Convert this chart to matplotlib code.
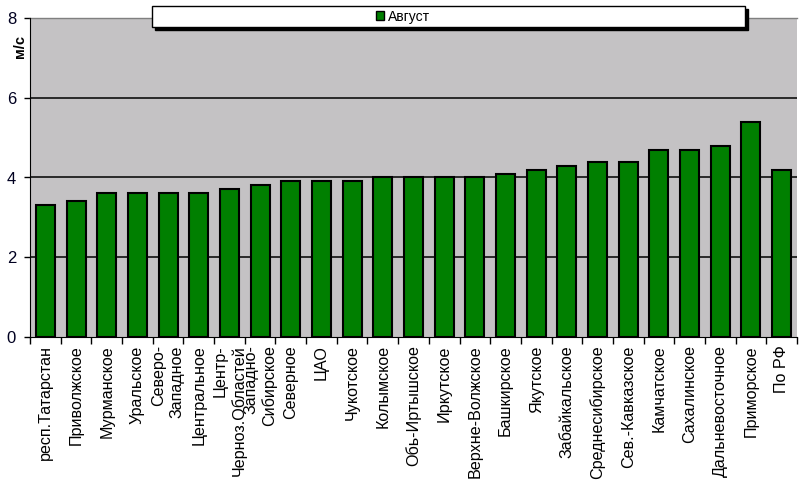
import matplotlib
matplotlib.use("Agg")
import matplotlib.pyplot as plt
from matplotlib.patches import Rectangle, Patch
import numpy as np

plt.rcParams['font.family'] = ['Liberation Sans', 'DejaVu Sans']

categories = ["респ.Татарстан", "Приволжское", "Мурманское", "Уральское",
              "Северо-\nЗападное", "Центральное", "Центр-\nЧерноз.Областей",
              "Западно-\nСибирское", "Северное", "ЦАО", "Чукотское", "Колымское",
              "Обь-Иртышское", "Иркутское", "Верхне-Волжское", "Башкирское",
              "Якутское", "Забайкальское", "Среднесибирское", "Сев.-Кавказское",
              "Камчатское", "Сахалинское", "Дальневосточное", "Приморское", "По РФ"]
august = [3.3, 3.4, 3.6, 3.6, 3.6, 3.6, 3.7, 3.8, 3.9, 3.9, 3.9, 4.0, 4.0, 4.0,
          4.0, 4.1, 4.2, 4.3, 4.4, 4.4, 4.7, 4.7, 4.8, 5.4, 4.2]
series_name = "Август"
y_label = "м/с"
yticks = [0, 2, 4, 6, 8]

W, H = 801, 490
fig = plt.figure(figsize=(W / 100, H / 100), dpi=100)
fig.patch.set_facecolor("white")
ax = fig.add_axes([30 / W, 1 - 337 / H, (797 - 30) / W, (337 - 18) / H])
ax.set_facecolor("#C4C2C4")

x = np.arange(len(categories))
ax.bar(x, august, width=0.62, color="#007F00", edgecolor="black", linewidth=1.5, zorder=3)

ax.set_xlim(-0.5, len(categories) - 0.5)
ax.set_ylim(0, 8)
ax.set_yticks(yticks)
ax.set_yticklabels([str(v) for v in yticks], fontsize=12, color="#000020")
for v in yticks[1:-1]:
    ax.axhline(v, color="black", linewidth=1.1, zorder=2)

ax.set_xticks(x)
ax.set_xticklabels(categories, rotation=90, fontsize=11.6, va="top", ha="center",
                   multialignment="right", linespacing=1.25)
ax.tick_params(axis="x", which="major", length=0, pad=6)
ax.set_xticks(np.arange(-0.5, len(categories), 1.0), minor=True)
ax.tick_params(axis="x", which="minor", length=5, width=1, color="black")
ax.tick_params(axis="y", length=4, width=1, pad=6)

for side in ["top", "right"]:
    ax.spines[side].set_visible(False)
ax.spines["left"].set_color("black")
ax.spines["bottom"].set_color("black")
ax.plot([0, 1], [1, 1], transform=ax.transAxes, color="#808080", linewidth=1, clip_on=False)

fig.text(20 / W, 1 - 46 / H, y_label, rotation=90, fontsize=10.5, fontweight="bold",
         ha="center", va="center")

# legend box with shadow
lx0, lx1, ly0, ly1 = 152, 745, 6, 27
fig.patches.append(Rectangle(((lx0 + 3) / W, 1 - (ly1 + 3) / H), (lx1 - lx0) / W, (ly1 - ly0) / H,
                             transform=fig.transFigure, facecolor="black", edgecolor="black", zorder=10))
fig.patches.append(Rectangle((lx0 / W, 1 - ly1 / H), (lx1 - lx0) / W, (ly1 - ly0) / H,
                             transform=fig.transFigure, facecolor="white", edgecolor="black",
                             linewidth=1, zorder=11))
leg = fig.legend(handles=[Patch(facecolor="#007F00", edgecolor="black", label=series_name)],
                 loc="center", bbox_to_anchor=(403 / W, 1 - 16.5 / H), frameon=False,
                 fontsize=10, handlelength=0.6, handleheight=0.6, handletextpad=0.3,
                 borderpad=0, borderaxespad=0)
leg.set_zorder(12)

fig.savefig("out.png", dpi=100)
